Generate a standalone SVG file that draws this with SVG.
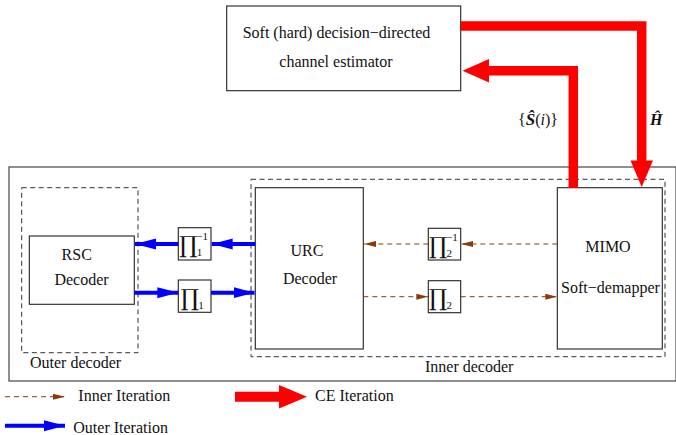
<svg xmlns="http://www.w3.org/2000/svg" width="676" height="435" viewBox="0 0 676 435">
<style>
text{font-family:"Liberation Serif","Times New Roman",serif;font-size:16px;fill:#111}
.box{fill:#fff;stroke:#222;stroke-width:1.1}
.dbox{fill:none;stroke:#333;stroke-width:1;stroke-dasharray:5 3.5}
.pi{font-family:"DejaVu Serif","Liberation Serif",serif;font-size:23px}
.sub{font-family:"Liberation Serif",serif;font-size:11px}
.blue{stroke:#0000ff;stroke-width:4;fill:none}
.brown{stroke:#8b3a0f;stroke-width:1;stroke-dasharray:5 4;fill:none}
.red{stroke:#ff0000;stroke-width:9.5;fill:none;stroke-linejoin:miter}
.mi{font-style:italic}
</style>
<defs>
<marker id="bh" markerUnits="userSpaceOnUse" markerWidth="21" markerHeight="12" refX="21" refY="6" orient="auto">
<path d="M0,0.5 L21,6 L0,11.5 z" fill="#0000ff"/>
</marker>
<marker id="brh" markerUnits="userSpaceOnUse" markerWidth="12" markerHeight="7" refX="12" refY="3.5" orient="auto">
<path d="M0,0.5 L12,3.5 L0,6.5 z" fill="#8b3a0f"/>
</marker>
</defs>
<rect x="9" y="167" width="667" height="214" fill="none" stroke="#333" stroke-width="1.1"/>
<g id="outer-decoder">
<rect class="dbox" x="21.7" y="187.7" width="116.3" height="165"/>
<text x="30" y="368">Outer decoder</text>
</g>
<g id="inner-decoder">
<rect class="dbox" x="251" y="179.3" width="414" height="177.4"/>
<text x="425" y="372">Inner decoder</text>
</g>
<g id="estimator">
<rect class="box" x="226.7" y="6" width="234" height="84.7"/>
<text x="242.7" y="38">Soft (hard) decision−directed</text>
<text x="279.3" y="66.7">channel estimator</text>
</g>
<g id="rsc">
<rect class="box" x="29.3" y="236" width="105" height="68.3"/>
<text x="76.7" y="260" text-anchor="middle">RSC</text>
<text x="81.5" y="285" text-anchor="middle">Decoder</text>
</g>
<g id="urc">
<rect class="box" x="255.3" y="187.7" width="108" height="161.3" stroke="#444" stroke-width="1.4"/>
<text x="307" y="256" text-anchor="middle">URC</text>
<text x="310" y="284" text-anchor="middle">Decoder</text>
</g>
<g id="mimo">
<rect class="box" x="557.3" y="187.7" width="105" height="161.3"/>
<text x="608" y="251.7" text-anchor="middle">MIMO</text>
<text x="610.5" y="292.7" text-anchor="middle">Soft−demapper</text>
</g>
<g id="pi1inv">
<rect class="box" x="178.3" y="227.7" width="32.7" height="32.3"/>
<text x="179" y="253"><tspan class="pi">∏</tspan><tspan class="sub" dx="-0.5" dy="3">1</tspan><tspan class="sub" dx="-6" dy="-16">−1</tspan></text>
</g>
<g id="pi1">
<rect class="box" x="178.3" y="280" width="32.7" height="32.3"/>
<text x="180.5" y="305.5"><tspan class="pi">∏</tspan><tspan class="sub" dx="-0.5" dy="3">1</tspan></text>
</g>
<g id="pi2inv">
<rect class="box" x="428.3" y="228.3" width="32.4" height="31.7"/>
<text x="428.8" y="253.5"><tspan class="pi">∏</tspan><tspan class="sub" dx="-0.5" dy="3">2</tspan><tspan class="sub" dx="-6" dy="-16">−1</tspan></text>
</g>
<g id="pi2">
<rect class="box" x="428.3" y="280.7" width="32.4" height="32"/>
<text x="428.8" y="306"><tspan class="pi">∏</tspan><tspan class="sub" dx="-0.5" dy="3">2</tspan></text>
</g>
<g id="connectors">
<line class="blue" x1="255" y1="244" x2="211.7" y2="244" marker-end="url(#bh)"/>
<line class="blue" x1="178.3" y1="244" x2="135" y2="244" marker-end="url(#bh)"/>
<line class="blue" x1="134.3" y1="292.7" x2="178.3" y2="292.7" marker-end="url(#bh)"/>
<line class="blue" x1="211" y1="292.7" x2="254.5" y2="292.7" marker-end="url(#bh)"/>
<line class="brown" x1="557.3" y1="244" x2="461" y2="244" marker-end="url(#brh)"/>
<line class="brown" x1="428.3" y1="244" x2="364" y2="244" marker-end="url(#brh)"/>
<line class="brown" x1="363.3" y1="296.7" x2="428.3" y2="296.7" marker-end="url(#brh)"/>
<line class="brown" x1="460.7" y1="296.7" x2="557.3" y2="296.7" marker-end="url(#brh)"/>
<polyline class="red" points="460.7,26 641.7,26 641.7,161.5"/>
<polygon points="630.5,160.5 653,160.5 641.7,187" fill="#ff0000"/>
<polyline class="red" points="573.3,188 573.3,70.7 488.5,70.7"/>
<polygon points="489,59 489,82.5 462.5,70.7" fill="#ff0000"/>
<text x="518" y="125">{<tspan font-weight="bold" font-style="italic" font-size="17">Ŝ</tspan>(<tspan class="mi">i</tspan>)}</text>
<text x="650" y="125" font-weight="bold" font-style="italic" font-size="17">Ĥ</text>
</g>
<g id="legend">
<line class="brown" x1="5" y1="396.7" x2="65" y2="396.7" marker-end="url(#brh)"/>
<text x="78.3" y="400.7">Inner Iteration</text>
<line x1="235" y1="396.7" x2="280" y2="396.7" stroke="#ff0000" stroke-width="10"/>
<polygon points="279,385 279,408.5 307,396.7" fill="#ff0000"/>
<text x="315" y="400.7">CE Iteration</text>
<line class="blue" x1="5" y1="425.7" x2="65" y2="425.7" marker-end="url(#bh)"/>
<text x="73.3" y="433">Outer Iteration</text>
</g>
</svg>
